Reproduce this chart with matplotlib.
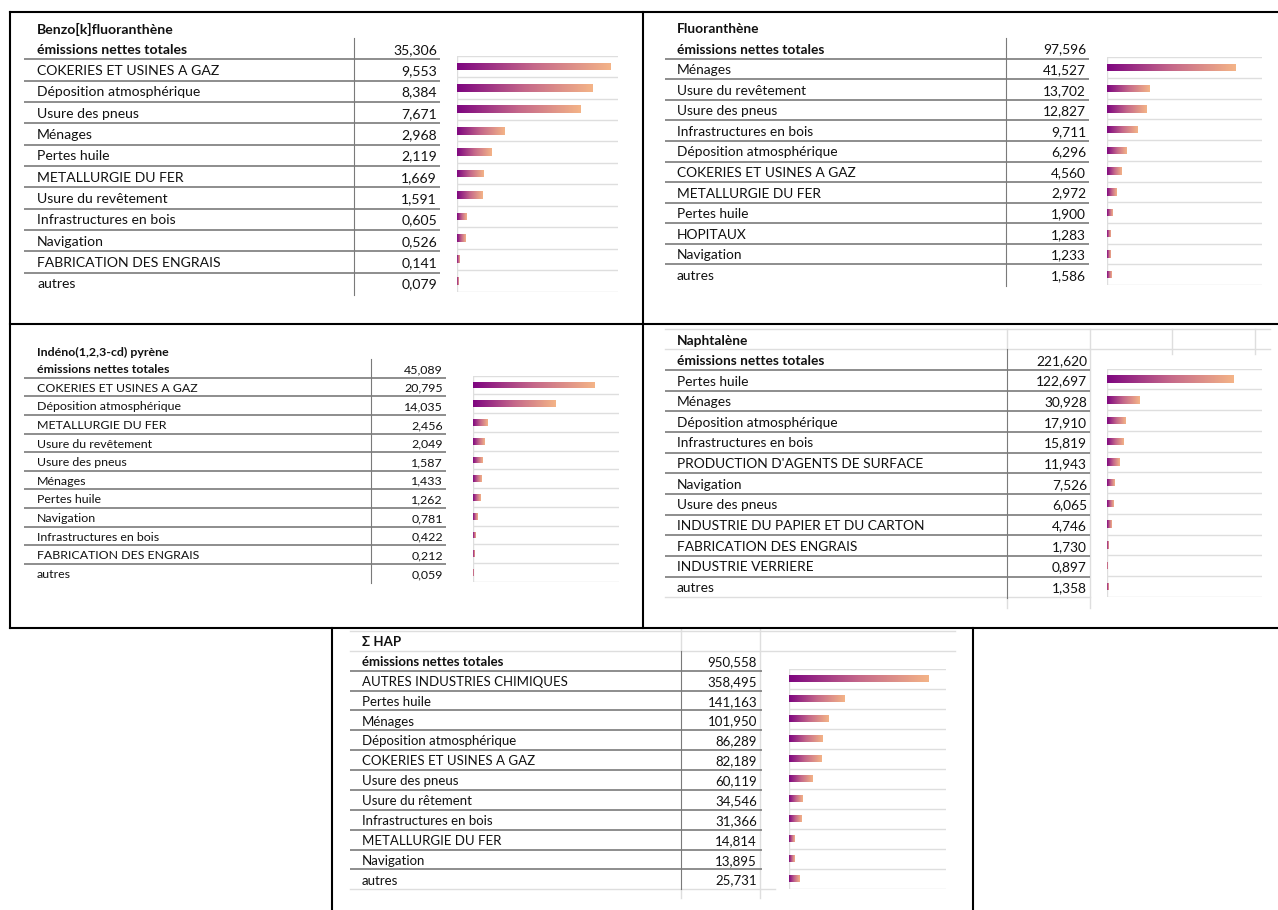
import numpy as np
import matplotlib
matplotlib.use("Agg")
import matplotlib.pyplot as plt
from matplotlib.colors import LinearSegmentedColormap

# ---- data -------------------------------------------------------------
benzo_title = "Benzo[k]fluoranthène"
benzo_total = 35.306
benzo_labels = ["COKERIES ET USINES A GAZ", "Déposition atmosphérique", "Usure des pneus",
                "Ménages", "Pertes huile", "METALLURGIE DU FER", "Usure du revêtement",
                "Infrastructures en bois", "Navigation", "FABRICATION DES ENGRAIS", "autres"]
benzo_values = [9.553, 8.384, 7.671, 2.968, 2.119, 1.669, 1.591, 0.605, 0.526, 0.141, 0.079]

fluo_title = "Fluoranthène"
fluo_total = 97.596
fluo_labels = ["Ménages", "Usure du revêtement", "Usure des pneus", "Infrastructures en bois",
               "Déposition atmosphérique", "COKERIES ET USINES A GAZ", "METALLURGIE DU FER",
               "Pertes huile", "HOPITAUX", "Navigation", "autres"]
fluo_values = [41.527, 13.702, 12.827, 9.711, 6.296, 4.560, 2.972, 1.900, 1.283, 1.233, 1.586]

indeno_title = "Indéno(1,2,3-cd) pyrène"
indeno_total = 45.089
indeno_labels = ["COKERIES ET USINES A GAZ", "Déposition atmosphérique", "METALLURGIE DU FER",
                 "Usure du revêtement", "Usure des pneus", "Ménages", "Pertes huile",
                 "Navigation", "Infrastructures en bois", "FABRICATION DES ENGRAIS", "autres"]
indeno_values = [20.795, 14.035, 2.456, 2.049, 1.587, 1.433, 1.262, 0.781, 0.422, 0.212, 0.059]

naph_title = "Naphtalène"
naph_total = 221.620
naph_labels = ["Pertes huile", "Ménages", "Déposition atmosphérique", "Infrastructures en bois",
               "PRODUCTION D'AGENTS DE SURFACE", "Navigation", "Usure des pneus",
               "INDUSTRIE DU PAPIER ET DU CARTON", "FABRICATION DES ENGRAIS",
               "INDUSTRIE VERRIERE", "autres"]
naph_values = [122.697, 30.928, 17.910, 15.819, 11.943, 7.526, 6.065, 4.746, 1.730, 0.897, 1.358]

hap_title = "Σ HAP"
hap_total = 950.558
hap_labels = ["AUTRES INDUSTRIES CHIMIQUES", "Pertes huile", "Ménages", "Déposition atmosphérique",
              "COKERIES ET USINES A GAZ", "Usure des pneus", "Usure du rêtement",
              "Infrastructures en bois", "METALLURGIE DU FER", "Navigation", "autres"]
hap_values = [358.495, 141.163, 101.950, 86.289, 82.189, 60.119, 34.546, 31.366, 14.814, 13.895, 25.731]

header = "émissions nettes totales"

# ---- layout (pixels) --------------------------------------------------
W, H = 1278, 910
plt.rcParams['font.family'] = ['Lato', 'DejaVu Sans']
plt.rcParams['text.color'] = '#111111'

fig = plt.figure(figsize=(W / 100, H / 100), dpi=100)
ax0 = fig.add_axes([0, 0, 1, 1])
ax0.set_xlim(0, W)
ax0.set_ylim(H, 0)
ax0.axis("off")

cmap = LinearSegmentedColormap.from_list("grad", ["#7e0680", "#c5688a", "#f4b487"])
grad = np.linspace(0, 1, 256).reshape(1, -1)

DARK = "#7a7a7a"
LIGHT = "#dedede"
DY = 1.2  # text sits slightly low in its row


def fmt(v):
    return f"{v:.3f}".replace(".", ",")


def panel(title, total, labels, values, lay):
    fs = lay["fs"]
    y0, p = lay["line0"], lay["pitch"]
    # title + header
    ax0.text(lay["lx"], lay["ty"] + DY, title, fontsize=fs, fontweight="bold", va="center", ha="left")
    ax0.text(lay["lx"], y0 - p / 2 + DY, header, fontsize=fs, fontweight="bold", va="center", ha="left")
    ax0.text(lay["vx"], y0 - p / 2 + DY, fmt(total), fontsize=fs, va="center", ha="right")
    for i, (lab, v) in enumerate(zip(labels, values)):
        yc = y0 + p * (i + 0.5) + DY
        ax0.text(lay["lx"], yc, lab, fontsize=fs, va="center", ha="left")
        ax0.text(lay["vx"], yc, fmt(v), fontsize=fs, va="center", ha="right")
    for k in range(len(labels)):
        ax0.plot(lay["line_x"], [y0 + p * k] * 2, color=DARK, lw=1.2, solid_capstyle="butt")
    ax0.plot([lay["sx"]] * 2, lay["sy"], color=DARK, lw=0.8)

    # bar area
    bx0, bx1 = lay["bar_x"]
    by0, by1 = lay["bar_y"]
    bax = fig.add_axes([bx0 / W, 1 - by1 / H, (bx1 - bx0) / W, (by1 - by0) / H])
    bax.patch.set_alpha(0)
    n = len(values)
    ypos = np.arange(n) + 0.5
    bars = bax.barh(ypos, values, height=0.36, color="none", edgecolor="none")
    for b in bars:
        x, y, w, h = b.get_x(), b.get_y(), b.get_width(), b.get_height()
        im = bax.imshow(grad, extent=[x, x + w, y + h, y], cmap=cmap, aspect="auto",
                        interpolation="bicubic", zorder=3)
        im.set_clip_path(b)
    bax.hlines(np.arange(n + 1), 0, 1, transform=bax.get_yaxis_transform(),
               color=LIGHT, lw=1.0, zorder=1)
    bax.axvline(0, color=LIGHT, lw=1.0, zorder=1)
    xmax = max(values) * (bx1 - bx0) / (lay["bar_end"] - bx0)
    bax.set_xlim(0, xmax)
    bax.set_ylim(n, 0)
    bax.axis("off")


layouts = {
    "benzo": dict(fs=10.1, lx=37, ty=28, vx=437, line0=59.3, pitch=21.33, line_x=[24, 440],
                  sx=354, sy=[38, 295], bar_x=(457, 618), bar_y=(55.7, 291.5), bar_end=611),
    "fluo": dict(fs=9.9, lx=677, ty=28, vx=1086, line0=58.7, pitch=20.57, line_x=[665, 1089],
                 sx=1006, sy=[38, 286], bar_x=(1107, 1262), bar_y=(57.3, 285), bar_end=1236),
    "indeno": dict(fs=8.9, lx=37, ty=351, vx=443, line0=377.7, pitch=18.63, line_x=[24, 446],
                   sx=371, sy=[359, 583], bar_x=(473, 619), bar_y=(375.7, 581.7), bar_end=594.7),
    "naph": dict(fs=9.9, lx=677, ty=340, vx=1087, line0=370, pitch=20.65, line_x=[665, 1090],
                 sx=1006.5, sy=[349, 598], bar_x=(1107, 1262), bar_y=(368.7, 596.7), bar_end=1234),
    "hap": dict(fs=9.5, lx=362, ty=641, vx=757, line0=670.7, pitch=19.87, line_x=[350, 762],
                sx=681, sy=[650.7, 889], bar_x=(789, 946), bar_y=(668.7, 888.7), bar_end=929),
}

# light spreadsheet grid lines (drawn first, beneath the table)
for y in (329, 349):
    ax0.plot([665, 1270], [y, y], color=LIGHT, lw=1.0)
ax0.plot([665, 1090], [597, 597], color=LIGHT, lw=1.0)
ax0.plot([1006.5, 1006.5], [329, 349], color=LIGHT, lw=1.0)
ax0.plot([1006.5, 1006.5], [598, 608], color=LIGHT, lw=1.0)
ax0.plot([1090, 1090], [329, 608], color=LIGHT, lw=1.0)
for x in (1172, 1255):
    ax0.plot([x, x], [329, 354], color=LIGHT, lw=1.0)
for y in (630.7, 650.7):
    ax0.plot([350, 955], [y, y], color=LIGHT, lw=1.0)
ax0.plot([350, 775], [889.3, 889.3], color=LIGHT, lw=1.0)
ax0.plot([681, 681], [629, 650.7], color=LIGHT, lw=1.0)
ax0.plot([681, 681], [889, 898], color=LIGHT, lw=1.0)
ax0.plot([760, 760], [629, 898], color=LIGHT, lw=1.0)

panel(benzo_title, benzo_total, benzo_labels, benzo_values, layouts["benzo"])
panel(fluo_title, fluo_total, fluo_labels, fluo_values, layouts["fluo"])
panel(indeno_title, indeno_total, indeno_labels, indeno_values, layouts["indeno"])
panel(naph_title, naph_total, naph_labels, naph_values, layouts["naph"])
panel(hap_title, hap_total, hap_labels, hap_values, layouts["hap"])

# black panel borders
blw = 1.5
for xs, ys in [([10, 1278], [12, 12]), ([10, 1278], [324, 324]), ([10, 1278], [628, 628]),
               ([10, 10], [12, 628]), ([643, 643], [12, 628]),
               ([332, 332], [628, 910]), ([973, 973], [628, 910])]:
    ax0.plot(xs, ys, color="black", lw=blw, solid_capstyle="projecting")

fig.savefig("out.png", dpi=100)
